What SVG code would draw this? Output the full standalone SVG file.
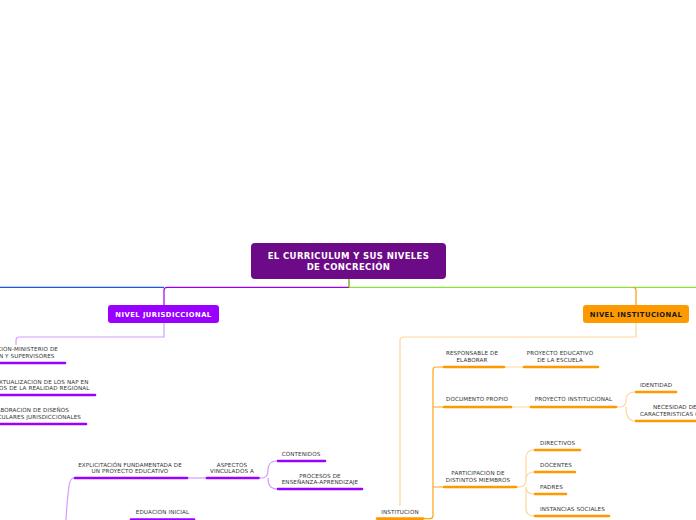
<svg xmlns="http://www.w3.org/2000/svg" width="696" height="520" viewBox="0 0 696 520">
<defs>
<style>
.t{font-family:"DejaVu Sans","Verdana",sans-serif;font-size:5.6px;letter-spacing:0.12px;fill:#333;}
.m{text-anchor:middle;}
.e{text-anchor:end;}
.ttl{font-family:"DejaVu Sans",sans-serif;font-weight:bold;font-size:8.5px;letter-spacing:0.38px;fill:#fff;text-anchor:middle;}
.lv{font-family:"DejaVu Sans",sans-serif;font-weight:bold;font-size:6.8px;letter-spacing:0.45px;text-anchor:middle;}
.up{stroke:#9900ff;stroke-width:2.6;stroke-linecap:round;fill:none;}
.uo{stroke:#ff9900;stroke-width:2.6;stroke-linecap:round;fill:none;}
.cp{stroke:#d49cff;stroke-width:1.2;fill:none;}
.co{stroke:#ffd699;stroke-width:1.2;fill:none;}
.cO{stroke:#ffa31a;stroke-width:1.2;fill:none;}
</style>
</defs>
<rect width="696" height="520" fill="#fff"/>
<g id="connectors">
<line x1="0" y1="287.3" x2="164" y2="287.3" stroke="#1f55e0" stroke-width="1.2"/>
<path d="M349,287.3 H167 Q164,287.3 164,290.3 V305" stroke="#9900ee" stroke-width="1.2" fill="none"/>
<line x1="349" y1="287.3" x2="696" y2="287.3" stroke="#8fe03c" stroke-width="1.2"/>
<line x1="349" y1="279" x2="349" y2="287.3" stroke="#8fae22" stroke-width="1.5"/>
<path d="M633,287.3 Q636,287.3 636,290.3 V305" stroke="#ff9900" stroke-width="1.2" fill="none"/>
<path class="cp" d="M164,323 V337 H19.5 Q16,337 16,340.5 V345"/>
<path class="co" d="M636,323 V337 H403.5 Q400,337 400,340.5 V506"/>
<path class="cp" d="M188,478 H207"/>
<path class="cp" d="M259,478 H262 Q268,478 268,470 Q268,461 277,461 M268,478 Q268,489 277,489"/>
<path class="cp" d="M74,478 Q70,478 69,486 Q67,500 66,520"/>
<path class="cO" d="M424,518.6 H430 Q433,518.6 433,515.6 V370 Q433,367 436,367 H443 M433,407 H443 M433,487 H443"/>
<path class="co" d="M505,367 H523 M512,407 H530"/>
<path class="co" d="M617,407 H620 Q626,407 626,400 Q626,392 635,392 M626,407 Q626,421 635,421"/>
<path class="co" d="M517,487 H520 Q526,487 526,478 V458 Q526,450 534,450 M526,480 Q526,472 534,472 M526,487 Q526,494 534,494 M526,487 V508 Q526,516 534,516"/>
</g>
<g id="title">
<rect x="251" y="243" width="195" height="36" rx="4" fill="#6c0a87"/>
<text class="ttl" x="348.5" y="259">EL CURRICULUM Y SUS NIVELES</text>
<text class="ttl" x="348.5" y="269.7">DE CONCRECIÓN</text>
</g>
<g id="nivel-jurisdiccional">
<rect x="108" y="305" width="111" height="18" rx="3" fill="#9900ff"/>
<text class="lv" x="163.5" y="316.5" fill="#fff">NIVEL JURISDICCIONAL</text>
</g>
<g id="nivel-institucional">
<rect x="583" y="305" width="106" height="18" rx="3" fill="#ff9900"/>
<text class="lv" x="636" y="316.5" fill="#1a1a1a">NIVEL INSTITUCIONAL</text>
</g>
<g id="j1">
<text class="t e" x="58" y="351.3">CION-MINISTERIO DE</text>
<text class="t e" x="54.5" y="357.7">N Y SUPERVISORES</text>
<line class="up" x1="-3" y1="363" x2="65" y2="363"/>
</g>
<g id="j2">
<text class="t e" x="88.5" y="384">EXTUALIZACION DE LOS NAP EN</text>
<text class="t e" x="89.5" y="390">NOS DE LA REALIDAD REGIONAL</text>
<line class="up" x1="-3" y1="395" x2="95" y2="395"/>
</g>
<g id="j3">
<text class="t e" x="69" y="412">ABORACION DE DISEÑOS</text>
<text class="t e" x="81" y="419">CULARES JURISDICCIONALES</text>
<line class="up" x1="-3" y1="424" x2="86" y2="424"/>
</g>
<g id="explicitacion">
<text class="t m" x="130" y="467">EXPLICITACIÓN FUNDAMENTADA DE</text>
<text class="t m" x="130" y="473.2">UN PROYECTO EDUCATIVO</text>
<line class="up" x1="75" y1="478" x2="187" y2="478"/>
</g>
<g id="aspectos">
<text class="t m" x="232" y="467">ASPECTOS</text>
<text class="t m" x="232" y="473.2">VINCULADOS A</text>
<line class="up" x1="207" y1="478" x2="258.5" y2="478"/>
</g>
<g id="contenidos">
<text class="t m" x="301" y="456">CONTENIDOS</text>
<line class="up" x1="278" y1="461" x2="325" y2="461"/>
</g>
<g id="procesos">
<text class="t m" x="320" y="478">PROCESOS DE</text>
<text class="t m" x="320" y="484.2">ENSEÑANZA-APRENDIZAJE</text>
<line class="up" x1="278" y1="489" x2="362" y2="489"/>
</g>
<g id="educacion-inicial">
<text class="t m" x="162.5" y="514">EDUACION INICIAL</text>
<line class="up" x1="131" y1="519.5" x2="194" y2="519.5"/>
</g>
<g id="institucion">
<text class="t m" x="400" y="514">INSTITUCION</text>
<line class="uo" x1="377" y1="518.6" x2="423" y2="518.6"/>
</g>
<g id="responsable">
<text class="t m" x="472" y="354.7">RESPONSABLE DE</text>
<text class="t m" x="472" y="362">ELABORAR</text>
<line class="uo" x1="444" y1="367" x2="504" y2="367"/>
</g>
<g id="proyecto-educativo">
<text class="t m" x="560" y="354.7">PROYECTO EDUCATIVO</text>
<text class="t m" x="560" y="362">DE LA ESCUELA</text>
<line class="uo" x1="524" y1="367" x2="598" y2="367"/>
</g>
<g id="documento-propio">
<text class="t m" x="477" y="401.3">DOCUMENTO PROPIO</text>
<line class="uo" x1="444" y1="407" x2="511" y2="407"/>
</g>
<g id="proyecto-institucional">
<text class="t m" x="573.5" y="401.3">PROYECTO INSTITUCIONAL</text>
<line class="uo" x1="531" y1="407" x2="616" y2="407"/>
</g>
<g id="identidad">
<text class="t m" x="656" y="387">IDENTIDAD</text>
<line class="uo" x1="636" y1="392" x2="676" y2="392"/>
</g>
<g id="necesidad">
<text class="t" x="653" y="409.3">NECESIDAD DE</text>
<text class="t" x="640" y="416">CARACTERISTICAS (</text>
<line class="uo" x1="636" y1="421" x2="700" y2="421"/>
</g>
<g id="participacion">
<text class="t m" x="478" y="475">PARTICIPACION DE</text>
<text class="t m" x="478" y="482.2">DISTINTOS MIEMBROS</text>
<line class="uo" x1="444" y1="487" x2="516" y2="487"/>
</g>
<g id="directivos">
<text class="t" x="540" y="445">DIRECTIVOS</text>
<line class="uo" x1="535" y1="450" x2="580" y2="450"/>
</g>
<g id="docentes">
<text class="t" x="540" y="467">DOCENTES</text>
<line class="uo" x1="535" y1="472" x2="575" y2="472"/>
</g>
<g id="padres">
<text class="t" x="540" y="489">PADRES</text>
<line class="uo" x1="535" y1="494" x2="566" y2="494"/>
</g>
<g id="instancias">
<text class="t" x="540" y="511">INSTANCIAS SOCIALES</text>
<line class="uo" x1="535" y1="516" x2="609" y2="516"/>
</g>
</svg>
